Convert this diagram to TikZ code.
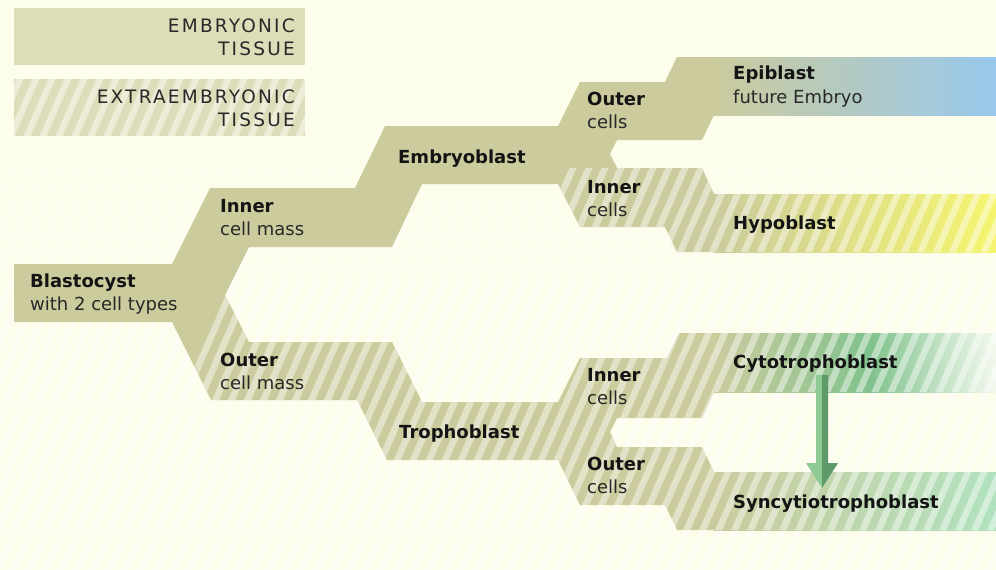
\documentclass[tikz,border=0pt]{standalone}
\usepackage{fontspec}
\setmainfont{DejaVu Sans}
\definecolor{bg}{RGB}{253,253,236}
\definecolor{olive}{RGB}{203,203,157}
\definecolor{legendc}{RGB}{221,221,186}
\definecolor{epiblue}{RGB}{152,200,236}
\definecolor{hypoyellow}{RGB}{245,245,110}
\definecolor{cytogreen}{RGB}{128,194,140}
\definecolor{cytopale}{RGB}{242,249,238}
\definecolor{syncgreen}{RGB}{176,226,190}
\definecolor{arrowlight}{RGB}{142,202,148}
\definecolor{arrowdark}{RGB}{94,154,106}
\definecolor{txtbold}{RGB}{20,20,20}
\definecolor{txtreg}{RGB}{40,40,40}
\tikzset{
  boldlabel/.style={anchor=base west, inner sep=0pt, font=\fontsize{18}{22}\selectfont\bfseries, text=txtbold},
  reglabel/.style={anchor=base west, inner sep=0pt, font=\fontsize{18}{22}\selectfont, text=txtreg},
  legendlabel/.style={anchor=base east, inner sep=0pt, font=\fontsize{18.5}{22}\selectfont\addfontfeature{LetterSpace=12}, text=txtreg},
  stripeline/.style={line width=6.5pt, white, opacity=0.45},
  bgstripe/.style={line width=6.5pt, white, opacity=#1},
}
\newcommand{\drawstripes}[1]{\foreach \k in {-20,...,65} {\draw[#1] (\k*16,600) -- ++(280,-640);}}
\begin{document}
\begin{tikzpicture}[x=1pt,y=-1pt]
\useasboundingbox (0,0) rectangle (996,570);
\fill[bg] (0,0) rectangle (996,570);
\begin{scope}
  \clip (0,160) rectangle (996,215);
  \drawstripes{bgstripe=0.15}
\end{scope}
\begin{scope}
  \clip (0,215) rectangle (996,280);
  \drawstripes{bgstripe=0.3}
\end{scope}
\begin{scope}
  \clip (0,280) rectangle (996,570);
  \drawstripes{bgstripe=0.45}
\end{scope}

% legend
\fill[legendc] (14,8) rectangle (305,65);
\fill[legendc] (14,79) rectangle (305,136);
\begin{scope}
  \clip (14,79) rectangle (305,136);
  \drawstripes{stripeline}
\end{scope}
\node[legendlabel] (leg1a) at (295,32) {EMBRYONIC};
\node[legendlabel] (leg1b) at (295,55) {TISSUE};
\node[legendlabel] (leg2a) at (295,103) {EXTRAEMBRYONIC};
\node[legendlabel] (leg2b) at (295,126) {TISSUE};

% tree
\fill[olive] (14,264) -- (172,264) -- (210,188) -- (355,188) -- (385,126) -- (558,126)
  -- (580,82) -- (665,82) -- (677,57) -- (714,57) -- (714,115) -- (702,140) -- (617,140)
  -- (610,154) -- (617,168) -- (702,168) -- (714,194) -- (714,252) -- (677,252) -- (665,227)
  -- (580,227) -- (558,184) -- (422,184) -- (392,247) -- (249,247) -- (225,295) -- (249,342)
  -- (392,342) -- (422,402) -- (558,402) -- (580,358) -- (667,358) -- (679,333) -- (714,333)
  -- (714,392) -- (702,418) -- (617,418) -- (610,432) -- (617,447) -- (702,447) -- (714,472)
  -- (714,530) -- (677,530) -- (665,505) -- (580,505) -- (558,460) -- (387,460) -- (357,400)
  -- (211,400) -- (172,322) -- (14,322) -- cycle;

% terminal bands
\fill[left color=olive, right color=epiblue] (713.5,57) rectangle (996,115);
\fill[left color=olive, right color=hypoyellow] (713.5,194) rectangle (996,252);
\fill[left color=olive, right color=cytogreen] (713.5,333) rectangle (870.5,392);
\fill[left color=cytogreen, right color=cytopale] (870,333) rectangle (996,392);
\fill[left color=olive, right color=syncgreen] (713.5,472) rectangle (996,530);

% stripes on extraembryonic tissue
\begin{scope}
  \clip (225,295) -- (249,342) -- (392,342) -- (422,402) -- (558,402) -- (580,358) -- (667,358)
    -- (679,333) -- (996,333) -- (996,392) -- (714,392) -- (702,418) -- (617,418) -- (610,432)
    -- (617,447) -- (702,447) -- (714,472) -- (996,472) -- (996,530) -- (677,530) -- (665,505)
    -- (580,505) -- (558,460) -- (387,460) -- (357,400) -- (211,400) -- (192,361) -- cycle;
  \drawstripes{stripeline}
\end{scope}
\begin{scope}
  \clip (565,168) -- (702,168) -- (714,194) -- (996,194) -- (996,252) -- (677,252) -- (665,227)
    -- (580,227) -- (558,184) -- cycle;
  \drawstripes{stripeline}
\end{scope}

% labels
\node[boldlabel] (blast) at (30,287) {Blastocyst};
\node[reglabel] (blastsub) at (30,310) {with 2 cell types};
\node[boldlabel] (icm) at (220,212) {Inner};
\node[reglabel] (icmsub) at (220,235) {cell mass};
\node[boldlabel] (ocm) at (220,366) {Outer};
\node[reglabel] (ocmsub) at (220,389) {cell mass};
\node[boldlabel] (embryo) at (398,163) {Embryoblast};
\node[boldlabel] (tropho) at (399,438) {Trophoblast};
\node[boldlabel] (eoc) at (587,105) {Outer};
\node[reglabel] (eocsub) at (587,128) {cells};
\node[boldlabel] (eic) at (587,193) {Inner};
\node[reglabel] (eicsub) at (587,216) {cells};
\node[boldlabel] (tic) at (587,381) {Inner};
\node[reglabel] (ticsub) at (587,404) {cells};
\node[boldlabel] (toc) at (587,470) {Outer};
\node[reglabel] (tocsub) at (587,493) {cells};
\node[boldlabel] (epi) at (733,79) {Epiblast};
\node[reglabel] (episub) at (733,103) {future Embryo};
\node[boldlabel] (hypo) at (733,229) {Hypoblast};
\node[boldlabel] (cyto) at (733,368) {Cytotrophoblast};
\node[boldlabel] (sync) at (733,508) {Syncytiotrophoblast};

% arrow cytotrophoblast -> syncytiotrophoblast
\coordinate (arrowstart) at (822,375);
\coordinate (arrowend) at (822,488);
\fill[arrowlight] (arrowstart) -- ++(-6,0) -- ++(0,88) -- ++(-10,0) -- (arrowend) -- cycle;
\fill[arrowdark] (arrowstart) -- ++(6,0) -- ++(0,88) -- ++(10,0) -- (arrowend) -- cycle;
\end{tikzpicture}
\end{document}
